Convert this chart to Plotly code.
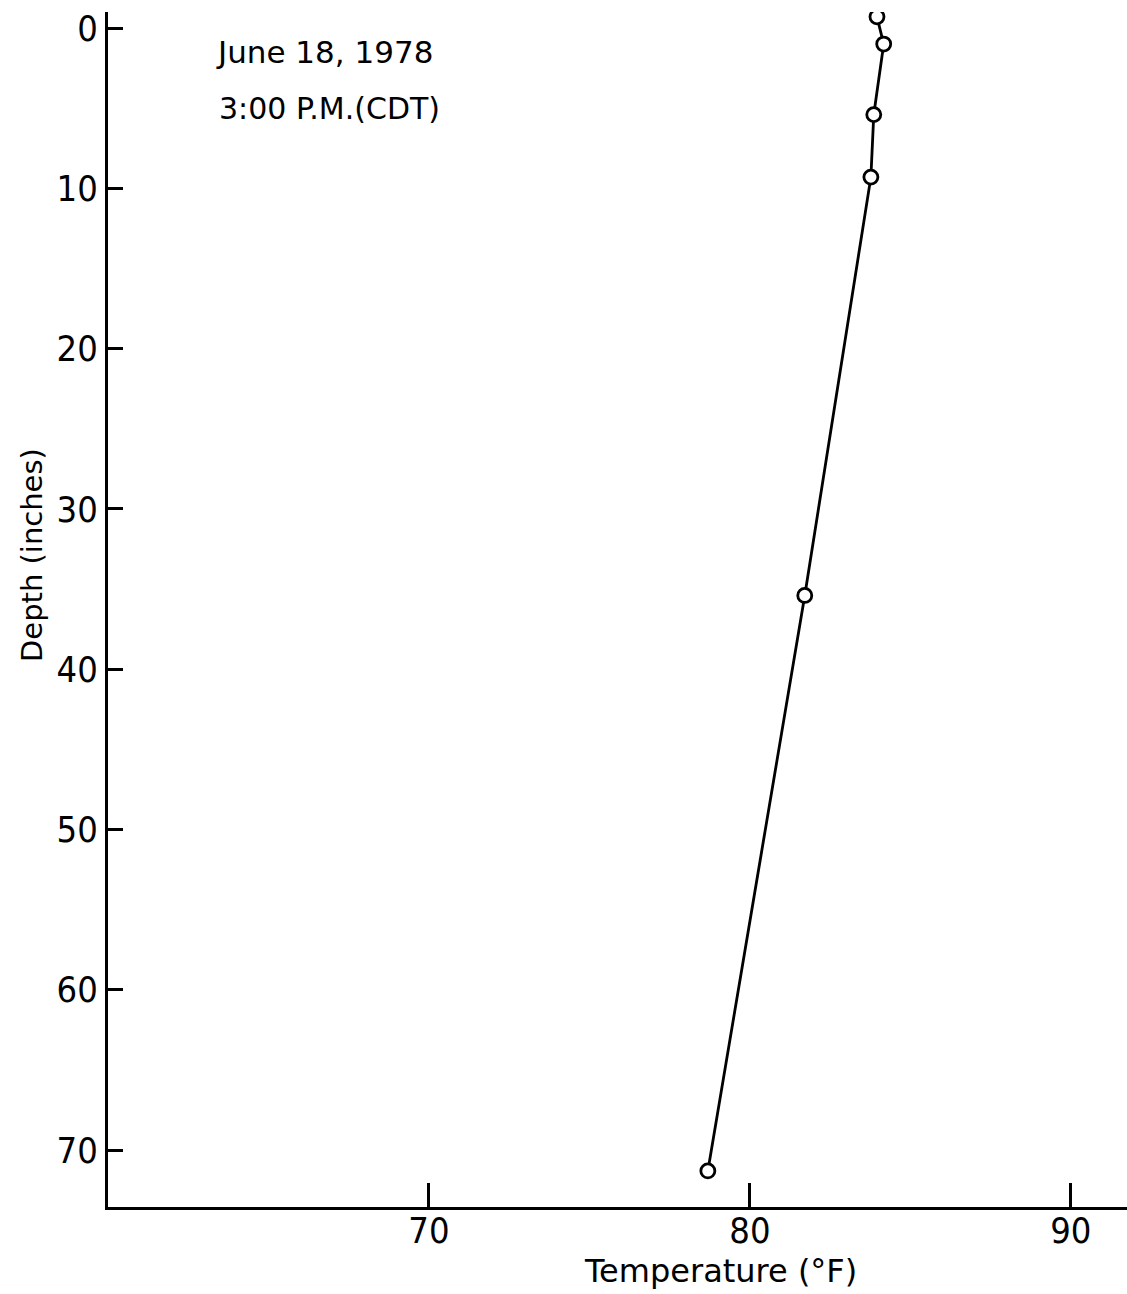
import plotly.graph_objects as go

# Soil temperature profile, June 18, 1978
temperature_f = [83.96, 84.17, 83.86, 83.77, 81.71, 78.69]
depth_in = [-0.7, 1.0, 5.4, 9.3, 35.4, 71.3]

x_ticks = [70, 80, 90]
y_ticks = [0, 10, 20, 30, 40, 50, 60, 70]

TICK_FONT = "DejaVu Sans Condensed"
TEXT_FONT = "DejaVu Sans"

fig = go.Figure()
fig.add_trace(go.Scatter(
    x=temperature_f, y=depth_in,
    mode="lines+markers",
    line=dict(color="black", width=2.8),
    marker=dict(symbol="circle", size=14, color="white",
                line=dict(color="black", width=2.8)),
    showlegend=False,
))

fig.update_layout(
    width=1127, height=1294,
    margin=dict(l=108, r=0, t=12, b=87),
    paper_bgcolor="white", plot_bgcolor="white",
    font=dict(family=TICK_FONT, size=36, color="black"),
    xaxis=dict(
        range=[60, 91.75], tickvals=x_ticks,
        ticks="inside", ticklen=24, tickwidth=2.5, tickcolor="black",
        showline=True, linecolor="black", linewidth=3,
        showgrid=False, zeroline=False,
        ticklabelstandoff=-10,
        tickfont=dict(family=TICK_FONT, size=36),
    ),
    yaxis=dict(
        range=[73.55, -1.0], tickvals=y_ticks,
        ticks="inside", ticklen=15, tickwidth=2.5, tickcolor="black",
        showline=True, linecolor="black", linewidth=3,
        showgrid=False, zeroline=False,
        tickfont=dict(family=TICK_FONT, size=36),
    ),
    annotations=[
        dict(text="Temperature (°F)", xref="paper", yref="paper",
             x=(720 - 108) / 1019, y=-(1271 - 1207) / 1195,
             xanchor="center", yanchor="middle", showarrow=False,
             font=dict(family=TEXT_FONT, size=32)),
        dict(text="Depth (inches)", xref="paper", yref="paper",
             x=-(108 - 32) / 1019, y=(1207 - 555) / 1195, textangle=-90,
             xanchor="center", yanchor="middle", showarrow=False,
             font=dict(family=TEXT_FONT, size=29)),
        dict(text="June 18, 1978", xref="x", yref="y",
             x=63.3, y=1.5, xanchor="left", yanchor="middle",
             showarrow=False, font=dict(family=TEXT_FONT, size=31)),
        dict(text="3:00 P.M.(CDT)", xref="x", yref="y",
             x=63.4, y=5.0, xanchor="left", yanchor="middle",
             showarrow=False, font=dict(family=TEXT_FONT, size=30)),
    ],
)

fig.write_html("out.html")
